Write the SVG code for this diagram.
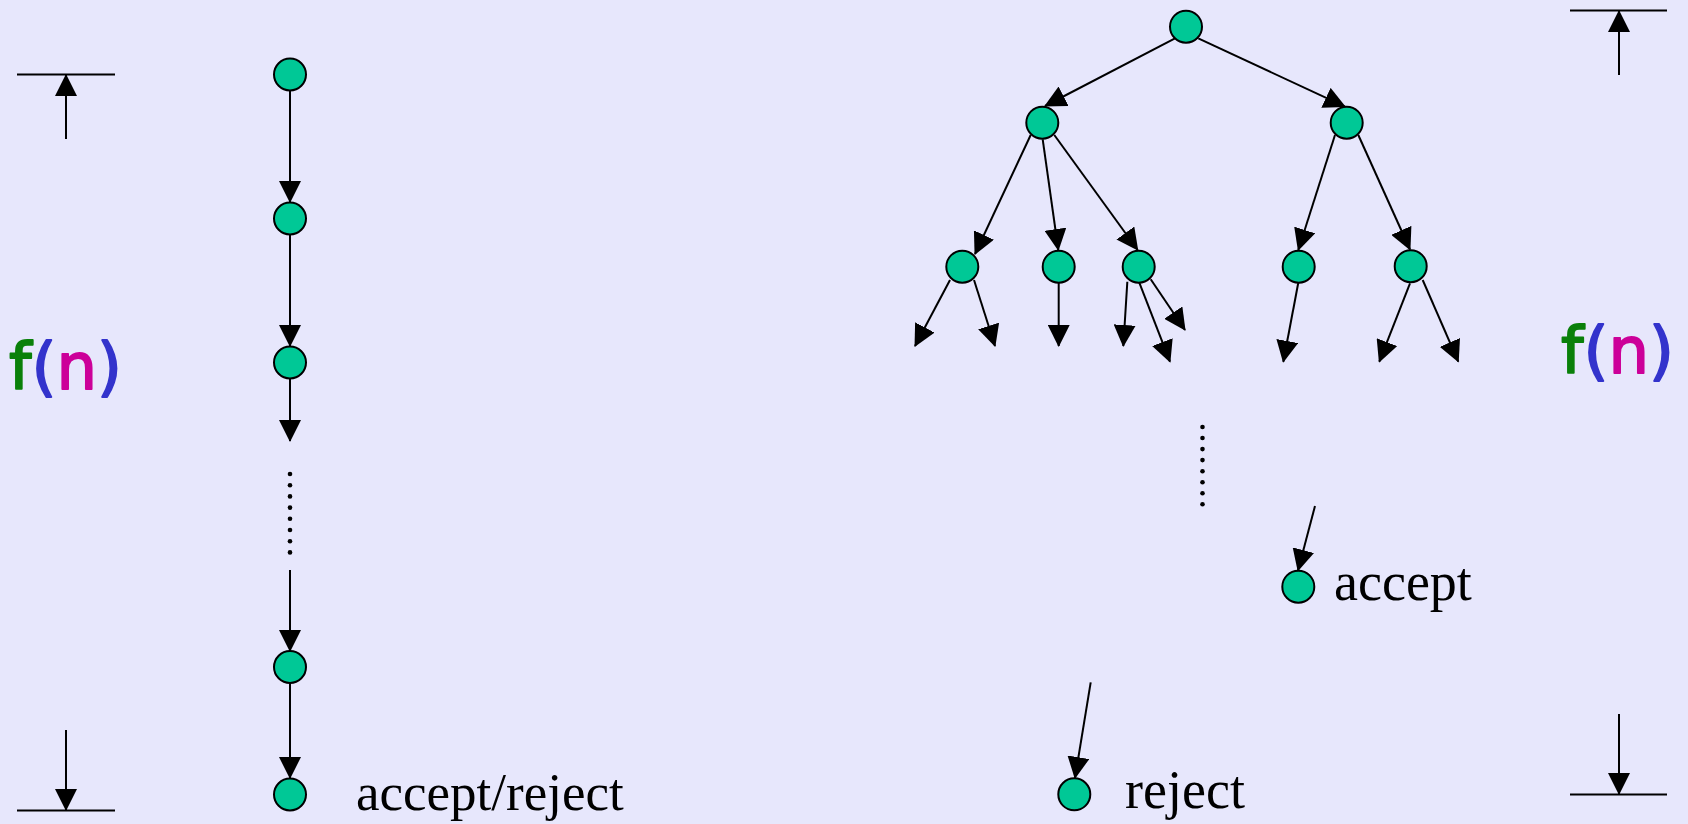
<svg xmlns="http://www.w3.org/2000/svg" width="1688" height="824" viewBox="0 0 1688 824">
<defs>
<marker id="ah" markerUnits="userSpaceOnUse" viewBox="0 0 22 22" markerWidth="22" markerHeight="22" refX="21" refY="11" orient="auto">
<path d="M0,0 L22,11 L0,22 z" fill="#000"/>
</marker>
<style>
.nd{fill:#00c896;stroke:#000;stroke-width:2}
.ln{stroke:#000;stroke-width:2;fill:none}
.ar{stroke:#000;stroke-width:2;fill:none;marker-end:url(#ah)}
.dot{fill:#000}
.lbl{font-family:"Liberation Serif",serif;font-size:54px;fill:#000}
.fn{font-family:"DejaVu Sans",sans-serif;font-size:64px;stroke-width:1.8px;stroke-linejoin:round}
.g{fill:#0a800a;stroke:#0a800a}.b{fill:#3333cc;stroke:#3333cc}.m{fill:#cc0099;stroke:#cc0099}
</style>
</defs>
<rect x="0" y="0" width="1688" height="824" fill="#e7e7fc"/>

<g id="dim-left">
<line class="ln" x1="17" y1="74.5" x2="115" y2="74.5"/>
<line class="ar" x1="66" y1="139" x2="66" y2="75"/>
<line class="ar" x1="66" y1="730" x2="66" y2="810"/>
<line class="ln" x1="17" y1="810.5" x2="115" y2="810.5"/>
<text class="fn" x="9" y="389"><tspan class="g">f</tspan><tspan class="b">(</tspan><tspan class="m">n</tspan><tspan class="b">)</tspan></text>
</g>

<g id="dim-right">
<line class="ln" x1="1570" y1="10.5" x2="1667" y2="10.5"/>
<line class="ar" x1="1619" y1="75" x2="1619" y2="11"/>
<line class="ar" x1="1619" y1="714" x2="1619" y2="794"/>
<line class="ln" x1="1570" y1="794.5" x2="1667" y2="794.5"/>
<text class="fn" x="1561" y="373"><tspan class="g">f</tspan><tspan class="b">(</tspan><tspan class="m">n</tspan><tspan class="b">)</tspan></text>
</g>

<g id="connectors">
<line class="ar" x1="290" y1="90" x2="290" y2="202"/>
<line class="ar" x1="290" y1="234" x2="290" y2="346"/>
<line class="ar" x1="290" y1="378" x2="290" y2="441"/>
<line class="ar" x1="290" y1="570" x2="290" y2="651"/>
<line class="ar" x1="290" y1="683" x2="290" y2="778"/>
<line class="ar" x1="1175" y1="38.3" x2="1045" y2="106"/>
<line class="ar" x1="1198.3" y1="38.3" x2="1345" y2="106.7"/>
<line class="ar" x1="1030.7" y1="135" x2="975" y2="254"/>
<line class="ar" x1="1042.7" y1="139.3" x2="1058.3" y2="250"/>
<line class="ar" x1="1054.3" y1="135" x2="1137.7" y2="250"/>
<line class="ar" x1="1335" y1="135" x2="1298.3" y2="250"/>
<line class="ar" x1="1358.3" y1="135" x2="1410" y2="249.5"/>
<line class="ar" x1="950" y1="280" x2="915" y2="346"/>
<line class="ar" x1="974" y1="280" x2="995" y2="346"/>
<line class="ar" x1="1058.7" y1="282.7" x2="1058.7" y2="346"/>
<line class="ar" x1="1127.3" y1="281.7" x2="1123.3" y2="346"/>
<line class="ar" x1="1139.3" y1="282.7" x2="1170" y2="361.7"/>
<line class="ar" x1="1150.7" y1="279.3" x2="1185" y2="330"/>
<line class="ar" x1="1298.3" y1="282.7" x2="1283.3" y2="361.7"/>
<line class="ar" x1="1410" y1="283.3" x2="1379.3" y2="361.7"/>
<line class="ar" x1="1422.7" y1="280" x2="1458.3" y2="361.7"/>
<line class="ar" x1="1315" y1="506" x2="1298" y2="570.5"/>
<line class="ar" x1="1090.7" y1="682.3" x2="1075" y2="778"/>
</g>

<g id="dots-left">
<circle class="dot" cx="290" cy="474" r="2.3"/>
<circle class="dot" cx="290" cy="485.2" r="2.3"/>
<circle class="dot" cx="290" cy="496.4" r="2.3"/>
<circle class="dot" cx="290" cy="507.6" r="2.3"/>
<circle class="dot" cx="290" cy="518.8" r="2.3"/>
<circle class="dot" cx="290" cy="530" r="2.3"/>
<circle class="dot" cx="290" cy="541.2" r="2.3"/>
<circle class="dot" cx="290" cy="552.4" r="2.3"/>
</g>
<g id="dots-right">
<circle class="dot" cx="1202.5" cy="427" r="2.3"/>
<circle class="dot" cx="1202.5" cy="438" r="2.3"/>
<circle class="dot" cx="1202.5" cy="449.1" r="2.3"/>
<circle class="dot" cx="1202.5" cy="460.1" r="2.3"/>
<circle class="dot" cx="1202.5" cy="471.2" r="2.3"/>
<circle class="dot" cx="1202.5" cy="482.2" r="2.3"/>
<circle class="dot" cx="1202.5" cy="493.3" r="2.3"/>
<circle class="dot" cx="1202.5" cy="504.3" r="2.3"/>
</g>

<g id="chain-1"><circle class="nd" cx="290" cy="74.5" r="16"/></g>
<g id="chain-2"><circle class="nd" cx="290" cy="218.5" r="16"/></g>
<g id="chain-3"><circle class="nd" cx="290" cy="362.5" r="16"/></g>
<g id="chain-4"><circle class="nd" cx="290" cy="667" r="16"/></g>
<g id="chain-5"><circle class="nd" cx="290" cy="794.5" r="16"/><text class="lbl" x="356" y="810" style="font-size:53px">accept/reject</text></g>

<g id="root"><circle class="nd" cx="1186" cy="26.7" r="16"/></g>
<g id="l1-left"><circle class="nd" cx="1042.3" cy="122.7" r="16"/></g>
<g id="l1-right"><circle class="nd" cx="1346.7" cy="122.7" r="16"/></g>
<g id="l2-a"><circle class="nd" cx="962.3" cy="266.7" r="16"/></g>
<g id="l2-b"><circle class="nd" cx="1058.7" cy="266.7" r="16"/></g>
<g id="l2-c"><circle class="nd" cx="1138.7" cy="266.7" r="16"/></g>
<g id="l2-d"><circle class="nd" cx="1298.7" cy="266.7" r="16"/></g>
<g id="l2-e"><circle class="nd" cx="1410.7" cy="266.2" r="16"/></g>
<g id="accept"><circle class="nd" cx="1298.3" cy="586.7" r="16"/><text class="lbl" x="1334" y="600">accept</text></g>
<g id="reject"><circle class="nd" cx="1074.3" cy="794.3" r="16"/><text class="lbl" x="1125" y="808">reject</text></g>
</svg>
